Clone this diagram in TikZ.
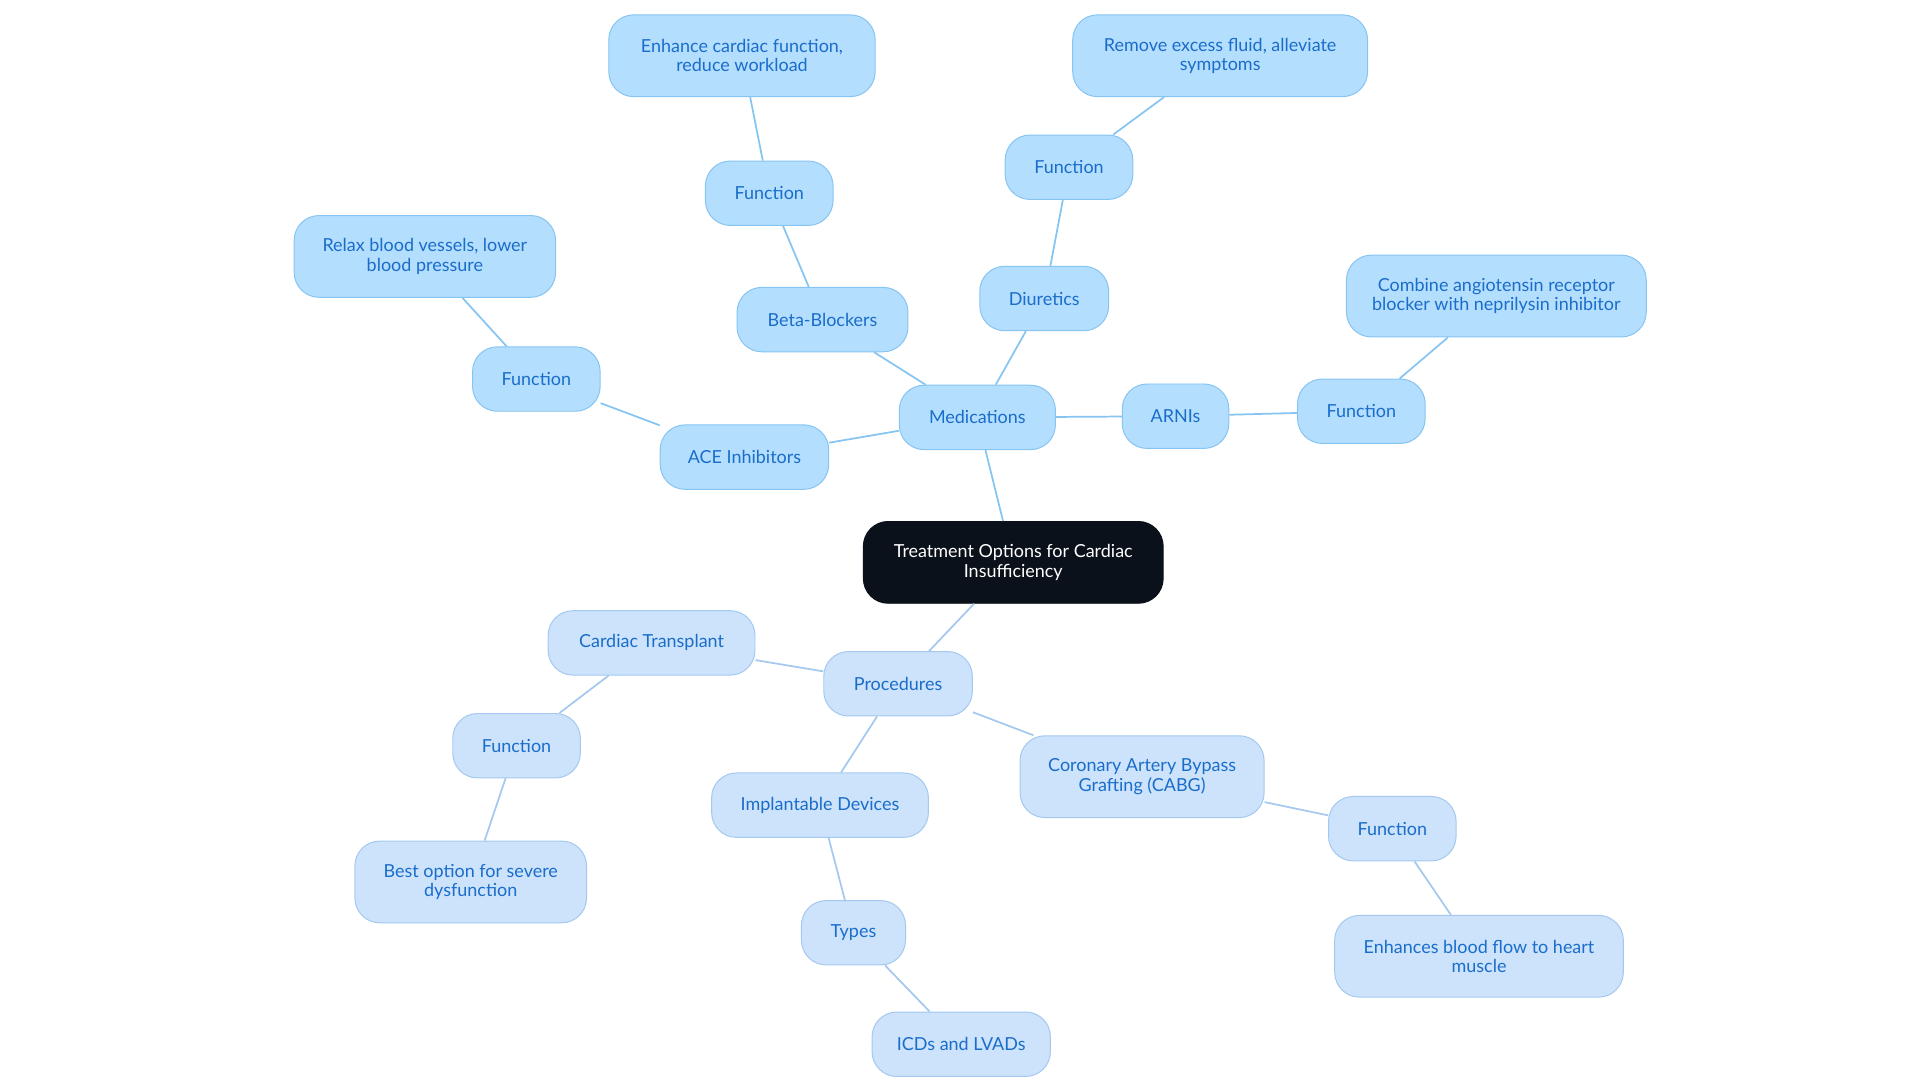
\documentclass[tikz,border=0pt]{standalone}
\usepackage{fontspec}
\setmainfont{Lato}
\begin{document}
\begin{tikzpicture}[x=1pt,y=-1pt,
  base/.style={rounded corners=20pt,align=center,font=\fontsize{14.5}{15.5}\selectfont,inner sep=0pt,line width=0.8pt},
  med/.style={base,fill=medfill,draw=medline,text=txtblue},
  proc/.style={base,fill=procfill,draw=procline,text=txtblue},
  root/.style={base,fill=rootfill,draw=rootfill,text=white},
  ml/.style={draw=medline,line width=1.4pt},
  pl/.style={draw=procline,line width=1.4pt}]
\definecolor{medfill}{HTML}{B4DEFD}
\definecolor{medline}{HTML}{86C4F2}
\definecolor{procfill}{HTML}{CCE3FB}
\definecolor{procline}{HTML}{A4C8F0}
\definecolor{txtblue}{HTML}{1A6DCB}
\definecolor{rootfill}{HTML}{0B111A}
\useasboundingbox (0,0) rectangle (1550,874);
\newcommand{\bx}[6]{\node[#1,minimum width=#4pt,minimum height=#5pt] (#2) at (#3) {#6};}
% medications
\bx{root}{root}{818,454}{242}{66}{Treatment Options for Cardiac\\Insufficiency}
\bx{med}{meds}{789,337}{126}{52}{Medications}
\bx{med}{bb}{664,258}{138}{52}{Beta-Blockers}
\bx{med}{fbb}{621,156}{103}{52}{Function}
\bx{med}{tbb}{599,45}{215}{66}{Enhance cardiac function,\\reduce workload}
\bx{med}{diu}{843,241}{104}{52}{Diuretics}
\bx{med}{fdiu}{863,135}{103}{52}{Function}
\bx{med}{tdiu}{985,45}{238}{66}{Remove excess fluid, alleviate\\symptoms}
\bx{med}{arni}{949,336}{86}{52}{ARNIs}
\bx{med}{farni}{1099,332}{103}{52}{Function}
\bx{med}{tarni}{1208,239}{242}{66}{Combine angiotensin receptor\\blocker with neprilysin inhibitor}
\bx{med}{ace}{601,369}{136}{52}{ACE Inhibitors}
\bx{med}{face}{433,306}{103}{52}{Function}
\bx{med}{tace}{343,207}{211}{66}{Relax blood vessels, lower\\blood pressure}
% procedures
\bx{proc}{proc}{725,552}{120}{52}{Procedures}
\bx{proc}{ct}{526,519}{167}{52}{Cardiac Transplant}
\bx{proc}{fct}{417,602}{103}{52}{Function}
\bx{proc}{tct}{380,712}{187}{66}{Best option for severe\\dysfunction}
\bx{proc}{imp}{662,650}{175}{52}{Implantable Devices}
\bx{proc}{typ}{689,753}{84}{52}{Types}
\bx{proc}{icd}{776,843}{144}{52}{ICDs and LVADs}
\bx{proc}{cabg}{922,627}{197}{66}{Coronary Artery Bypass\\Grafting (CABG)}
\bx{proc}{fcabg}{1124,669}{103}{52}{Function}
\bx{proc}{tcabg}{1194,772}{233}{66}{Enhances blood flow to heart\\muscle}
\begin{scope}[on background layer/.style={}]
\end{scope}
\begin{pgfonlayer}{main}\end{pgfonlayer}
\path[ml] (root) -- (meds) (meds) -- (bb) (bb) -- (fbb) (fbb) -- (tbb)
  (meds) -- (diu) (diu) -- (fdiu) (fdiu) -- (tdiu)
  (meds) -- (arni) (arni) -- (farni) (farni) -- (tarni)
  (meds) -- (ace) (ace) -- (face) (face) -- (tace);
\path[pl] (root) -- (proc) (proc) -- (ct) (ct) -- (fct) (fct) -- (tct)
  (proc) -- (imp) (imp) -- (typ) (typ) -- (icd)
  (proc) -- (cabg) (cabg) -- (fcabg) (fcabg) -- (tcabg);
\end{tikzpicture}
\end{document}
